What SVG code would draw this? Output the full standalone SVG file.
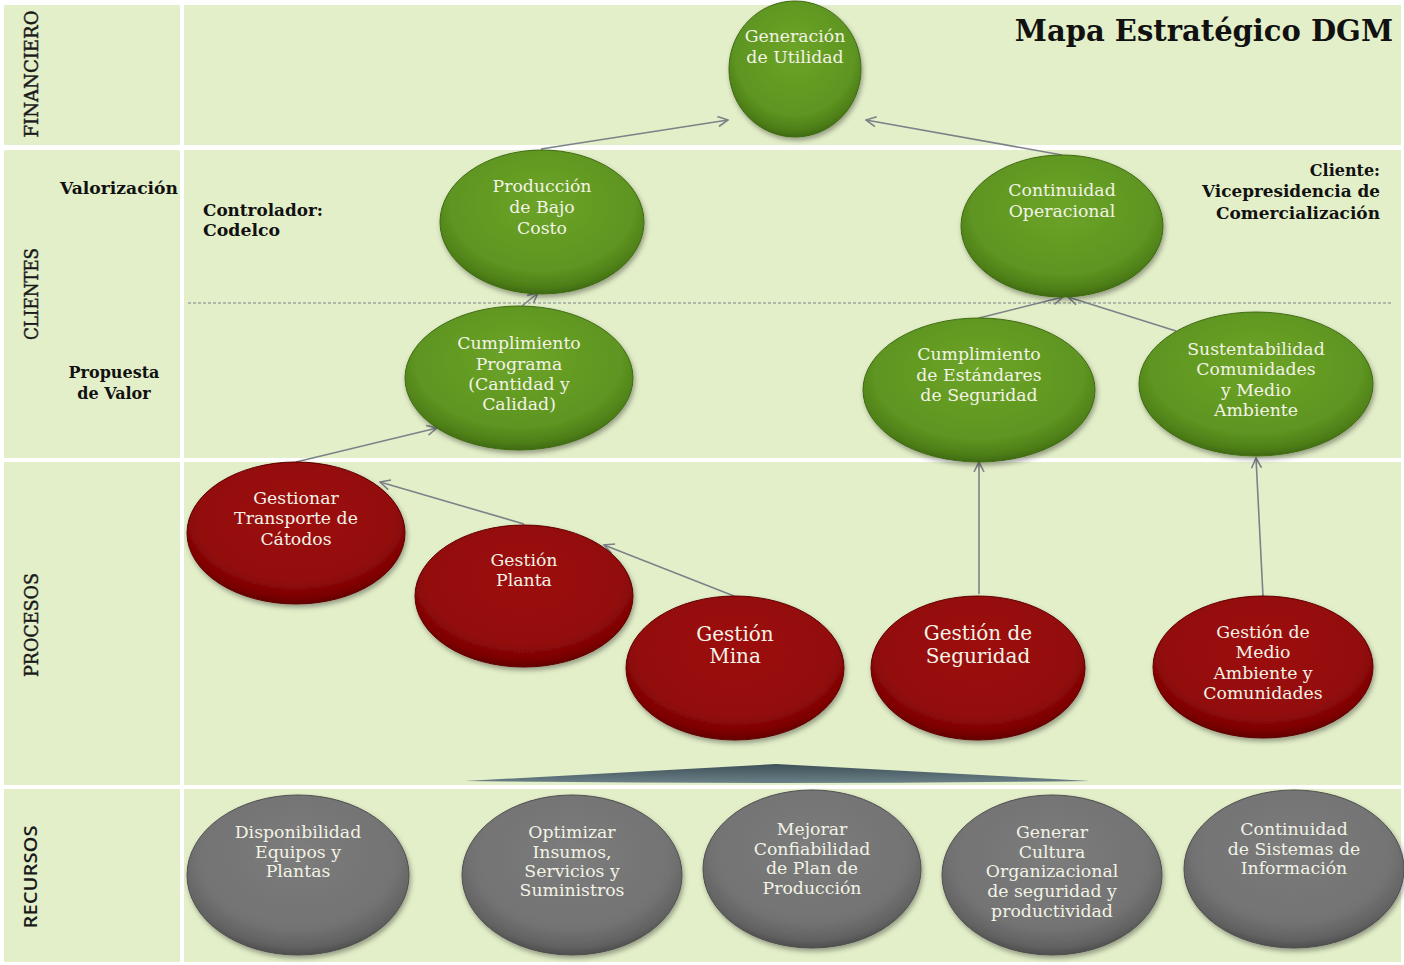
<svg xmlns="http://www.w3.org/2000/svg" width="1404" height="965" viewBox="0 0 1404 965">
  <style>
    .panel { fill: #e3efc9; }
    .band { font-family: "DejaVu Serif", "Liberation Serif", serif; font-size: 18px; fill: #1a1a1a; stroke: #1a1a1a; stroke-width: 0.45; }
    .band-sans { font-family: "Open Sans", "Liberation Sans", sans-serif; font-size: 18px; fill: #1a1a1a; font-weight: 600; }
    .lbl { font-family: "DejaVu Serif", "Liberation Serif", serif; font-size: 16px; font-weight: bold; fill: #111; }
    .title { font-family: "DejaVu Serif", "Liberation Serif", serif; font-size: 29px; font-weight: bold; fill: #111; }
    .nt { font-family: "DejaVu Serif", "Liberation Serif", serif; font-size: 17.3px; fill: #f3f3e6; text-anchor: middle; }
    .nt-big { font-size: 20px; }
    .conn { stroke: #7c8288; stroke-width: 1.6; fill: none; marker-end: url(#arrow); }
    .green { fill: url(#gGreen); stroke: #3f6a12; stroke-width: 1; filter: url(#shadow); }
    .red { fill: url(#gRed); stroke: #5e0000; stroke-width: 1; filter: url(#shadow); }
    .grey { fill: url(#gGrey); stroke: #4e4e4e; stroke-width: 1; filter: url(#shadow); }
  </style>
  <defs>
    <radialGradient id="gGreen" cx="50%" cy="40%" r="60%" fx="50%" fy="35%">
      <stop offset="0" stop-color="#6ca427"/>
      <stop offset="0.75" stop-color="#5e9521"/>
      <stop offset="0.92" stop-color="#4e7f18"/>
      <stop offset="1" stop-color="#3f6a10"/>
    </radialGradient>
    <radialGradient id="gRed" cx="50%" cy="40%" r="60%" fx="50%" fy="35%">
      <stop offset="0" stop-color="#9d0c0c"/>
      <stop offset="0.75" stop-color="#930909"/>
      <stop offset="0.92" stop-color="#7c0404"/>
      <stop offset="1" stop-color="#620000"/>
    </radialGradient>
    <radialGradient id="gGrey" cx="50%" cy="40%" r="60%" fx="50%" fy="35%">
      <stop offset="0" stop-color="#7c7c7c"/>
      <stop offset="0.75" stop-color="#737373"/>
      <stop offset="0.92" stop-color="#626262"/>
      <stop offset="1" stop-color="#4e4e4e"/>
    </radialGradient>
    <linearGradient id="gWedge" x1="0" y1="0" x2="0" y2="1">
      <stop offset="0" stop-color="#3d5058"/>
      <stop offset="1" stop-color="#6c8088"/>
    </linearGradient>
    <filter id="shadow" x="-10%" y="-10%" width="125%" height="130%">
      <feDropShadow dx="1.5" dy="3" stdDeviation="2.5" flood-color="#000" flood-opacity="0.35"/>
    </filter>
    <marker id="arrow" viewBox="0 0 12 12" refX="11" refY="6" markerWidth="12" markerHeight="12" markerUnits="userSpaceOnUse" orient="auto">
      <path d="M1,1 L11,6 L1,11" fill="none" stroke="#7c8288" stroke-width="1.6"/>
    </marker>
  </defs>

  <!-- page and band panels -->
  <rect x="0" y="0" width="1404" height="965" fill="#ffffff"/>
  <g id="bands">
    <rect class="panel" x="4" y="5" width="176" height="140"/>
    <rect class="panel" x="184" y="5" width="1217" height="140"/>
    <rect class="panel" x="4" y="150" width="176" height="308"/>
    <rect class="panel" x="184" y="150" width="1217" height="308"/>
    <rect class="panel" x="4" y="462" width="176" height="323"/>
    <rect class="panel" x="184" y="462" width="1217" height="323"/>
    <rect class="panel" x="4" y="789" width="176" height="173"/>
    <rect class="panel" x="184" y="789" width="1217" height="173"/>
    <line x1="188" y1="303" x2="1392" y2="303" stroke="#9aa6a0" stroke-width="1.5" stroke-dasharray="3 2"/>
  </g>

  <!-- band labels -->
  <g id="band-labels">
    <text class="band" transform="translate(38,74) rotate(-90)" text-anchor="middle" textLength="127" lengthAdjust="spacingAndGlyphs">FINANCIERO</text>
    <text class="band" transform="translate(38,294) rotate(-90)" text-anchor="middle" textLength="92" lengthAdjust="spacingAndGlyphs">CLIENTES</text>
    <text class="band" transform="translate(38,625) rotate(-90)" text-anchor="middle" textLength="104" lengthAdjust="spacingAndGlyphs">PROCESOS</text>
    <text class="band-sans" transform="translate(37,877) rotate(-90)" text-anchor="middle" textLength="103" lengthAdjust="spacingAndGlyphs">RECURSOS</text>
    <text class="lbl" x="60" y="194" textLength="118" lengthAdjust="spacingAndGlyphs">Valorización</text>
    <text class="lbl" x="114" y="378" text-anchor="middle">Propuesta</text>
    <text class="lbl" x="114" y="399" text-anchor="middle">de Valor</text>
    <text class="lbl" x="203" y="216" textLength="120" lengthAdjust="spacingAndGlyphs">Controlador:</text>
    <text class="lbl" x="203" y="236" textLength="77" lengthAdjust="spacingAndGlyphs">Codelco</text>
    <text class="lbl" x="1380" y="176" text-anchor="end">Cliente:</text>
    <text class="lbl" x="1380" y="197" text-anchor="end" textLength="178" lengthAdjust="spacingAndGlyphs">Vicepresidencia de</text>
    <text class="lbl" x="1380" y="219" text-anchor="end" textLength="164" lengthAdjust="spacingAndGlyphs">Comercialización</text>
    <text class="title" x="1393" y="41" text-anchor="end">Mapa Estratégico DGM</text>
  </g>

  <!-- support wedge under the process row -->
  <path id="wedge" d="M465,781 L776,764 L1090,781 Q776,785 465,781 Z" fill="url(#gWedge)"/>

  <!-- connectors -->
  <g id="connectors">
    <line class="conn" x1="541" y1="149" x2="728" y2="120"/>
    <line class="conn" x1="1062" y1="155" x2="866" y2="120"/>
    <line class="conn" x1="522" y1="306" x2="538" y2="293"/>
    <line class="conn" x1="979" y1="318" x2="1063" y2="297"/>
    <line class="conn" x1="1176" y1="331" x2="1068" y2="297"/>
    <line class="conn" x1="296" y1="462" x2="437" y2="428"/>
    <line class="conn" x1="524" y1="524" x2="380" y2="482"/>
    <line class="conn" x1="734" y1="596" x2="604" y2="545"/>
    <line class="conn" x1="979" y1="594" x2="979" y2="462"/>
    <line class="conn" x1="1263" y1="596" x2="1256" y2="458"/>
  </g>

  <!-- financial perspective -->
  <g id="n-generacion">
    <ellipse class="green" cx="795" cy="69" rx="66" ry="68"/>
    <text class="nt" x="795" y="42">Generación</text>
    <text class="nt" x="795" y="63">de Utilidad</text>
  </g>

  <!-- client perspective -->
  <g id="n-produccion">
    <ellipse class="green" cx="542" cy="222" rx="102" ry="72"/>
    <text class="nt" x="542" y="192">Producción</text>
    <text class="nt" x="542" y="213">de Bajo</text>
    <text class="nt" x="542" y="234">Costo</text>
  </g>
  <g id="n-continuidad-op">
    <ellipse class="green" cx="1062" cy="226" rx="101" ry="71"/>
    <text class="nt" x="1062" y="196">Continuidad</text>
    <text class="nt" x="1062" y="217">Operacional</text>
  </g>
  <g id="n-cumplimiento-programa">
    <ellipse class="green" cx="519" cy="378" rx="114" ry="72"/>
    <text class="nt" x="519" y="349">Cumplimiento</text>
    <text class="nt" x="519" y="370">Programa</text>
    <text class="nt" x="519" y="390">(Cantidad y</text>
    <text class="nt" x="519" y="410">Calidad)</text>
  </g>
  <g id="n-estandares">
    <ellipse class="green" cx="979" cy="390" rx="116" ry="72"/>
    <text class="nt" x="979" y="360">Cumplimiento</text>
    <text class="nt" x="979" y="381">de Estándares</text>
    <text class="nt" x="979" y="401">de Seguridad</text>
  </g>
  <g id="n-sustentabilidad">
    <ellipse class="green" cx="1256" cy="384" rx="117" ry="72"/>
    <text class="nt" x="1256" y="355">Sustentabilidad</text>
    <text class="nt" x="1256" y="375">Comunidades</text>
    <text class="nt" x="1256" y="396">y Medio</text>
    <text class="nt" x="1256" y="416">Ambiente</text>
  </g>

  <!-- internal processes -->
  <g id="n-transporte">
    <ellipse class="red" cx="296" cy="533" rx="109" ry="71"/>
    <text class="nt" x="296" y="504">Gestionar</text>
    <text class="nt" x="296" y="524">Transporte de</text>
    <text class="nt" x="296" y="545">Cátodos</text>
  </g>
  <g id="n-planta">
    <ellipse class="red" cx="524" cy="596" rx="109" ry="71"/>
    <text class="nt" x="524" y="566">Gestión</text>
    <text class="nt" x="524" y="586">Planta</text>
  </g>
  <g id="n-mina">
    <ellipse class="red" cx="735" cy="668" rx="109" ry="72"/>
    <text class="nt nt-big" x="735" y="641">Gestión</text>
    <text class="nt nt-big" x="735" y="663">Mina</text>
  </g>
  <g id="n-seguridad">
    <ellipse class="red" cx="978" cy="668" rx="107" ry="72"/>
    <text class="nt nt-big" x="978" y="640">Gestión  de</text>
    <text class="nt nt-big" x="978" y="663">Seguridad</text>
  </g>
  <g id="n-medio-ambiente">
    <ellipse class="red" cx="1263" cy="667" rx="110" ry="71"/>
    <text class="nt" x="1263" y="638">Gestión  de</text>
    <text class="nt" x="1263" y="658">Medio</text>
    <text class="nt" x="1263" y="679">Ambiente y</text>
    <text class="nt" x="1263" y="699">Comunidades</text>
  </g>

  <!-- resources -->
  <g id="n-disponibilidad">
    <ellipse class="grey" cx="298" cy="875" rx="111" ry="80"/>
    <text class="nt" x="298" y="838">Disponibilidad</text>
    <text class="nt" x="298" y="858">Equipos y</text>
    <text class="nt" x="298" y="877">Plantas</text>
  </g>
  <g id="n-optimizar">
    <ellipse class="grey" cx="572" cy="875" rx="110" ry="80"/>
    <text class="nt" x="572" y="838">Optimizar</text>
    <text class="nt" x="572" y="858">Insumos,</text>
    <text class="nt" x="572" y="877">Servicios y</text>
    <text class="nt" x="572" y="896">Suministros</text>
  </g>
  <g id="n-mejorar">
    <ellipse class="grey" cx="812" cy="869" rx="109" ry="79"/>
    <text class="nt" x="812" y="835">Mejorar</text>
    <text class="nt" x="812" y="855">Confiabilidad</text>
    <text class="nt" x="812" y="874">de Plan de</text>
    <text class="nt" x="812" y="894">Producción</text>
  </g>
  <g id="n-cultura">
    <ellipse class="grey" cx="1052" cy="875" rx="110" ry="80"/>
    <text class="nt" x="1052" y="838">Generar</text>
    <text class="nt" x="1052" y="858">Cultura</text>
    <text class="nt" x="1052" y="877">Organizacional</text>
    <text class="nt" x="1052" y="897">de seguridad y</text>
    <text class="nt" x="1052" y="917">productividad</text>
  </g>
  <g id="n-sistemas">
    <ellipse class="grey" cx="1294" cy="869" rx="110" ry="79"/>
    <text class="nt" x="1294" y="835">Continuidad</text>
    <text class="nt" x="1294" y="855">de Sistemas de</text>
    <text class="nt" x="1294" y="874">Información</text>
  </g>
</svg>
